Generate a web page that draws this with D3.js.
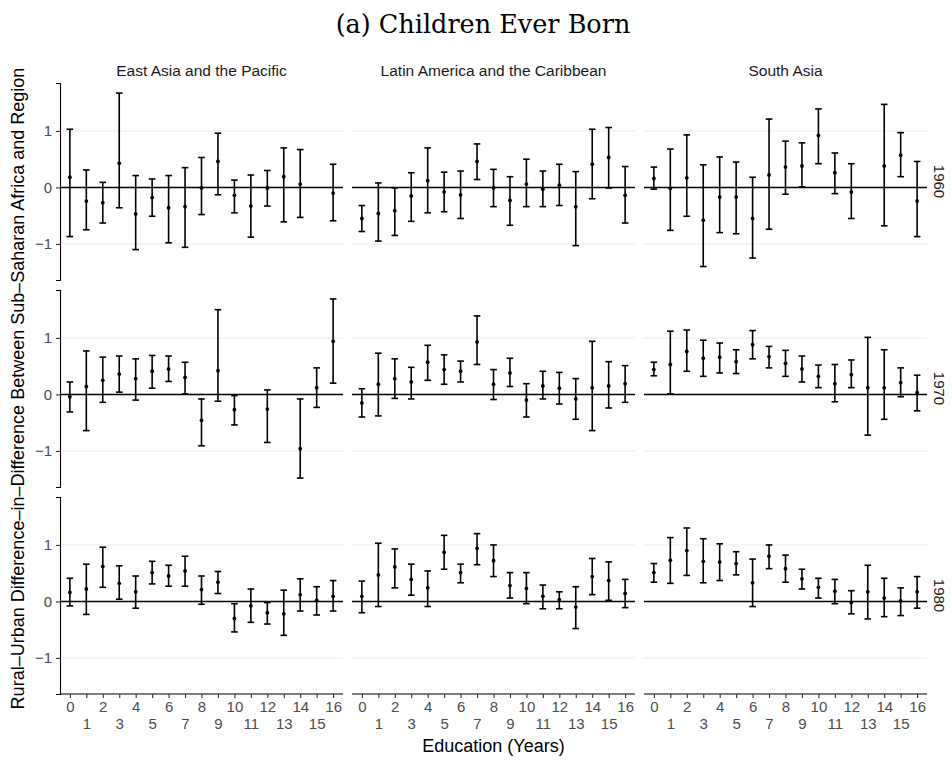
<!DOCTYPE html>
<html>
<head>
<meta charset="utf-8">
<script src="https://cdn.jsdelivr.net/npm/d3@7"></script>
<style>
  html, body { margin: 0; padding: 0; background: #fff; }
  svg { display: block; }
</style>
</head>
<body>
<svg id="chart" width="952" height="761"></svg>
<script>
// Education levels (years) on the x axis
const education = [0,1,2,3,4,5,6,7,8,9,10,11,12,13,14,15,16];
const regions = ["East Asia and the Pacific", "Latin America and the Caribbean", "South Asia"];
const cohorts = ["1960", "1970", "1980"];
const yTicks = [-1, 0, 1];

// Point estimates and 95% interval bounds; null = no estimate
// East Asia and the Pacific
const eap1960Est = [0.18,-0.24,-0.27,0.43,-0.47,-0.18,-0.36,-0.34,-0.01,0.46,-0.14,-0.33,-0.01,0.19,0.06,null,-0.10];
const eap1960Lo  = [-0.87,-0.75,-0.63,-0.36,-1.10,-0.51,-0.98,-1.06,-0.48,-0.13,-0.45,-0.88,-0.33,-0.61,-0.53,null,-0.59];
const eap1960Hi  = [1.03,0.31,0.09,1.67,0.21,0.15,0.21,0.35,0.53,0.96,0.13,0.22,0.30,0.70,0.67,null,0.41];
const eap1970Est = [-0.04,0.14,0.25,0.36,0.28,0.41,0.45,0.30,-0.46,0.42,-0.27,null,-0.26,null,-0.96,0.12,0.94];
const eap1970Lo  = [-0.31,-0.64,-0.14,0.04,-0.10,0.11,0.23,0.01,-0.91,-0.12,-0.54,null,-0.85,null,-1.48,-0.23,0.20];
const eap1970Hi  = [0.22,0.77,0.66,0.68,0.63,0.69,0.68,0.57,-0.08,1.50,-0.02,null,0.08,null,-0.08,0.47,1.69];
const eap1980Est = [0.16,0.22,0.62,0.32,0.17,0.51,0.45,0.54,0.21,0.34,-0.30,-0.08,-0.20,-0.22,0.12,0.02,0.09];
const eap1980Lo  = [-0.08,-0.23,0.25,0.04,-0.12,0.31,0.27,0.27,-0.05,0.14,-0.54,-0.37,-0.40,-0.60,-0.17,-0.24,-0.17];
const eap1980Hi  = [0.41,0.66,0.96,0.63,0.45,0.71,0.64,0.80,0.45,0.53,-0.04,0.22,-0.02,0.20,0.40,0.26,0.37];

// Latin America and the Caribbean
const lac1960Est = [-0.55,-0.46,-0.41,-0.15,0.12,-0.08,-0.13,0.46,-0.01,-0.23,0.06,-0.03,0.04,-0.34,0.41,0.53,-0.14];
const lac1960Lo  = [-0.78,-0.95,-0.85,-0.60,-0.45,-0.43,-0.55,0.14,-0.34,-0.67,-0.34,-0.34,-0.32,-1.03,-0.20,-0.01,-0.63];
const lac1960Hi  = [-0.32,0.08,-0.01,0.26,0.70,0.27,0.29,0.77,0.32,0.19,0.50,0.29,0.41,0.28,1.03,1.06,0.37];
const lac1970Est = [-0.15,0.18,0.28,0.22,0.57,0.44,0.41,0.93,0.18,0.38,-0.10,0.15,0.11,-0.08,0.12,0.15,0.19];
const lac1970Lo  = [-0.40,-0.38,-0.07,-0.08,0.25,0.18,0.22,0.53,-0.09,0.14,-0.40,-0.08,-0.17,-0.44,-0.64,-0.24,-0.14];
const lac1970Hi  = [0.10,0.73,0.63,0.48,0.87,0.70,0.59,1.39,0.44,0.64,0.19,0.41,0.39,0.28,0.94,0.58,0.51];
const lac1980Est = [0.09,0.47,0.61,0.39,0.24,0.87,0.51,0.94,0.72,0.28,0.23,0.09,0.03,-0.10,0.44,0.37,0.14];
const lac1980Lo  = [-0.20,-0.09,0.24,0.11,-0.09,0.57,0.33,0.65,0.44,0.06,-0.04,-0.13,-0.13,-0.48,0.12,0.02,-0.11];
const lac1980Hi  = [0.36,1.03,0.93,0.66,0.54,1.17,0.66,1.20,1.00,0.51,0.51,0.29,0.17,0.26,0.76,0.70,0.39];

// South Asia
const sa1960Est = [0.16,-0.02,0.17,-0.58,-0.17,-0.17,-0.55,0.22,0.36,0.38,0.92,0.26,-0.08,null,0.38,0.57,-0.24];
const sa1960Lo  = [-0.03,-0.76,-0.51,-1.40,-0.80,-0.82,-1.25,-0.74,-0.12,0.01,0.42,-0.11,-0.55,null,-0.68,0.19,-0.87];
const sa1960Hi  = [0.36,0.68,0.93,0.40,0.54,0.45,0.18,1.21,0.82,0.79,1.39,0.61,0.42,null,1.47,0.97,0.46];
const sa1970Est = [0.44,0.53,0.76,0.64,0.66,0.58,0.88,0.67,0.55,0.45,0.32,0.19,0.35,0.12,0.12,0.21,0.03];
const sa1970Lo  = [0.33,0.01,0.41,0.32,0.38,0.37,0.63,0.47,0.32,0.22,0.12,-0.13,0.12,-0.72,-0.44,-0.04,-0.29];
const sa1970Hi  = [0.57,1.12,1.14,0.96,0.91,0.79,1.13,0.85,0.78,0.68,0.52,0.53,0.61,1.01,0.79,0.47,0.34];
const sa1980Est = [0.51,0.73,0.90,0.71,0.70,0.67,0.33,0.80,0.58,0.40,0.25,0.18,-0.02,0.17,0.06,0.01,0.17];
const sa1980Lo  = [0.34,0.32,0.46,0.33,0.37,0.47,-0.09,0.58,0.34,0.22,0.06,-0.04,-0.22,-0.31,-0.27,-0.25,-0.12];
const sa1980Hi  = [0.67,1.13,1.30,1.11,1.02,0.88,0.75,1.00,0.82,0.57,0.41,0.39,0.19,0.64,0.41,0.24,0.44];

// Panel grid: [row = cohort][col = region]
const panels = [
  [[eap1960Est, eap1960Lo, eap1960Hi], [lac1960Est, lac1960Lo, lac1960Hi], [sa1960Est, sa1960Lo, sa1960Hi]],
  [[eap1970Est, eap1970Lo, eap1970Hi], [lac1970Est, lac1970Lo, lac1970Hi], [sa1970Est, sa1970Lo, sa1970Hi]],
  [[eap1980Est, eap1980Lo, eap1980Hi], [lac1980Est, lac1980Lo, lac1980Hi], [sa1980Est, sa1980Lo, sa1980Hi]]
];

// Layout
const panelX = [60, 352, 644];
const panelY = [83, 290, 497];
const panelW = 283, panelH = 197;

const svg = d3.select("#chart");
const sans = "'Liberation Sans', Arial, Helvetica, sans-serif";

// Shared y scale (expanded 5% beyond the data range, as ggplot does)
const allLo = d3.min(panels.flat().map(p => d3.min(p[1])));
const allHi = d3.max(panels.flat().map(p => d3.max(p[2])));
const pad = (allHi - allLo) * 0.05;
const yDomain = [allLo - pad, allHi + pad];

// Title
svg.append("text")
  .attr("x", 483).attr("y", 33)
  .attr("text-anchor", "middle")
  .attr("font-family", "'DejaVu Serif', 'Liberation Serif', serif")
  .attr("font-size", 25.5)
  .attr("fill", "#000")
  .text("(a) Children Ever Born");

panels.forEach((row, r) => {
  row.forEach((cell, c) => {
    const [est, lo, hi] = cell;
    const x = d3.scalePoint().domain(education).range([panelX[c], panelX[c] + panelW]).padding(0.6);
    const y = d3.scaleLinear().domain(yDomain).range([panelY[r] + panelH, panelY[r]]);
    const g = svg.append("g");

    // horizontal grid lines
    g.selectAll("line.grid").data(yTicks.filter(t => t !== 0)).join("line")
      .attr("x1", panelX[c]).attr("x2", panelX[c] + panelW)
      .attr("y1", d => y(d)).attr("y2", d => y(d))
      .attr("stroke", "#ebebeb").attr("stroke-width", 1.1);

    // zero reference line
    g.append("line")
      .attr("x1", panelX[c]).attr("x2", panelX[c] + panelW)
      .attr("y1", y(0)).attr("y2", y(0))
      .attr("stroke", "#000").attr("stroke-width", 1.4);

    const pts = education.map((e, i) => ({ e, m: est[i], l: lo[i], h: hi[i] })).filter(d => d.m !== null);
    const cap = 3.3;

    const eb = g.selectAll("g.eb").data(pts).join("g")
      .attr("stroke", "#000").attr("stroke-width", 1.6).attr("fill", "none");
    eb.append("line")
      .attr("x1", d => x(d.e)).attr("x2", d => x(d.e))
      .attr("y1", d => y(d.l)).attr("y2", d => y(d.h));
    eb.append("line")
      .attr("x1", d => x(d.e) - cap).attr("x2", d => x(d.e) + cap)
      .attr("y1", d => y(d.h)).attr("y2", d => y(d.h));
    eb.append("line")
      .attr("x1", d => x(d.e) - cap).attr("x2", d => x(d.e) + cap)
      .attr("y1", d => y(d.l)).attr("y2", d => y(d.l));

    g.selectAll("circle").data(pts).join("circle")
      .attr("cx", d => x(d.e)).attr("cy", d => y(d.m))
      .attr("r", 1.9).attr("fill", "#000");

    // left axis on the first column
    if (c === 0) {
      const ax = g.append("g")
        .attr("transform", `translate(${panelX[c]},0)`)
        .call(d3.axisLeft(y).tickValues(yTicks).tickSize(4).tickPadding(4).tickFormat(d => d === 0 ? "0" : d3.format("d")(d).replace("-", "\u2212")));
      ax.select(".domain").attr("stroke", "#000").attr("stroke-width", 1.1);
      ax.selectAll(".tick line").attr("stroke", "#333").attr("stroke-width", 1.1);
      ax.selectAll(".tick text").attr("font-family", sans).attr("font-size", 15).attr("fill", "#4d4d4d");
    }

    // bottom axis on the last row, with alternating label rows
    if (r === 2) {
      const ax = g.append("g")
        .attr("transform", `translate(0,${panelY[r] + panelH})`)
        .call(d3.axisBottom(x).tickSize(4).tickPadding(3).tickSizeOuter(0));
      ax.select(".domain").attr("stroke", "#000").attr("stroke-width", 1.1)
        .attr("d", `M${panelX[c]},0H${panelX[c] + panelW}`);
      ax.selectAll(".tick line").attr("stroke", "#333").attr("stroke-width", 1.1);
      ax.selectAll(".tick text")
        .attr("font-family", sans).attr("font-size", 15).attr("fill", "#4d4d4d")
        .attr("dy", d => d % 2 === 0 ? "0.71em" : "1.85em");
    }

    // region strip labels along the top
    if (r === 0) {
      svg.append("text")
        .attr("x", panelX[c] + panelW / 2).attr("y", 76)
        .attr("text-anchor", "middle")
        .attr("font-family", sans).attr("font-size", 15.5).attr("fill", "#1a1a1a")
        .text(regions[c]);
    }
    // cohort strip labels along the right
    if (c === 2) {
      const cx = 934, cy = panelY[r] + panelH / 2;
      svg.append("text")
        .attr("transform", `translate(${cx},${cy}) rotate(90)`)
        .attr("text-anchor", "middle")
        .attr("font-family", sans).attr("font-size", 15).attr("fill", "#1a1a1a")
        .text(cohorts[r]);
    }
  });
});

// Axis titles
svg.append("text")
  .attr("x", panelX[0] + (panelX[2] + panelW - panelX[0]) / 2).attr("y", 752)
  .attr("text-anchor", "middle")
  .attr("font-family", sans).attr("font-size", 18).attr("fill", "#000")
  .text("Education (Years)");

svg.append("text")
  .attr("transform", `translate(24,${panelY[0] + (panelY[2] + panelH - panelY[0]) / 2}) rotate(-90)`)
  .attr("text-anchor", "middle")
  .attr("font-family", sans).attr("font-size", 18).attr("fill", "#000")
  .text("Rural\u2013Urban Difference\u2013in\u2013Difference Between Sub\u2013Saharan Africa and Region");
</script>
</body>
</html>
